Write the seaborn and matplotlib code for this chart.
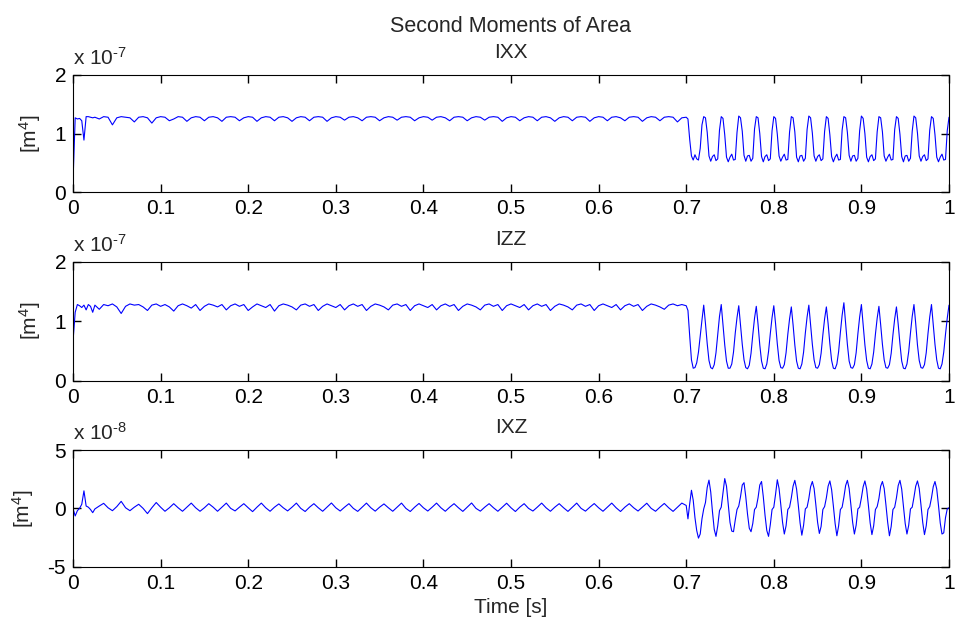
import numpy as np
import pandas as pd
import matplotlib
matplotlib.use('Agg')
import matplotlib.pyplot as plt
import seaborn as sns

'''Data read off the reference (IXX, IZZ in 1e-7 m^4, IXZ in 1e-8 m^4)'''

# sample times: short start block, slower middle block, denser block after 0.7 s
t_start = np.linspace(0.0, 0.0225, 10)
t_mid = np.linspace(0.025, 0.695, 135)
t_end = np.linspace(0.700, 1.000, 151)

ixx_start = [0.18, 1.27, 1.25, 1.26, 1.22, 0.89, 1.29, 1.29, 1.28, 1.27]
ixx_mid = [1.28, 1.25, 1.29, 1.28, 1.15, 1.27, 1.29, 1.28, 1.27, 1.20,
           1.28, 1.29, 1.27, 1.18, 1.27, 1.29, 1.28, 1.22, 1.25, 1.29,
           1.28, 1.21, 1.27, 1.29, 1.28, 1.22, 1.28, 1.29, 1.27, 1.21,
           1.28, 1.29, 1.28, 1.22, 1.27, 1.29, 1.28, 1.21, 1.27, 1.29,
           1.28, 1.22, 1.28, 1.29, 1.27, 1.21, 1.27, 1.29, 1.28, 1.22,
           1.28, 1.29, 1.28, 1.21, 1.27, 1.29, 1.28, 1.23, 1.28, 1.29,
           1.27, 1.22, 1.28, 1.29, 1.28, 1.22, 1.27, 1.29, 1.28, 1.23,
           1.28, 1.29, 1.28, 1.22, 1.27, 1.29, 1.28, 1.23, 1.28, 1.29,
           1.27, 1.22, 1.28, 1.29, 1.28, 1.22, 1.27, 1.29, 1.28, 1.23,
           1.28, 1.29, 1.28, 1.21, 1.27, 1.29, 1.28, 1.22, 1.27, 1.29,
           1.28, 1.22, 1.28, 1.29, 1.27, 1.21, 1.27, 1.29, 1.28, 1.22,
           1.28, 1.29, 1.28, 1.21, 1.27, 1.29, 1.28, 1.22, 1.28, 1.29,
           1.27, 1.22, 1.28, 1.29, 1.28, 1.21, 1.27, 1.29, 1.28, 1.22,
           1.28, 1.29, 1.28, 1.20, 1.27]
ixx_end = [1.28, 1.25, 0.90, 0.62, 0.55, 0.64, 0.57, 0.55, 0.75, 1.15,
           1.29, 1.27, 1.02, 0.62, 0.53, 0.61, 0.64, 0.54, 0.57, 1.06,
           1.29, 1.26, 0.98, 0.60, 0.52, 0.60, 0.65, 0.55, 0.56, 1.02,
           1.30, 1.27, 1.04, 0.63, 0.53, 0.62, 0.63, 0.53, 0.58, 1.08,
           1.29, 1.27, 1.00, 0.61, 0.52, 0.61, 0.64, 0.54, 0.57, 1.05,
           1.29, 1.26, 0.99, 0.62, 0.53, 0.60, 0.65, 0.55, 0.56, 1.03,
           1.29, 1.27, 1.03, 0.60, 0.52, 0.62, 0.63, 0.53, 0.58, 1.07,
           1.30, 1.27, 1.01, 0.62, 0.53, 0.61, 0.64, 0.54, 0.57, 1.04,
           1.29, 1.26, 0.98, 0.61, 0.52, 0.60, 0.65, 0.55, 0.56, 1.06,
           1.29, 1.27, 1.02, 0.63, 0.53, 0.62, 0.63, 0.53, 0.58, 1.05,
           1.30, 1.26, 1.00, 0.60, 0.52, 0.61, 0.64, 0.54, 0.57, 1.03,
           1.29, 1.27, 1.03, 0.62, 0.53, 0.60, 0.65, 0.55, 0.56, 1.07,
           1.29, 1.26, 0.99, 0.61, 0.52, 0.62, 0.63, 0.53, 0.58, 1.04,
           1.30, 1.27, 1.01, 0.62, 0.53, 0.61, 0.64, 0.54, 0.57, 1.06,
           1.29, 1.26, 0.98, 0.60, 0.52, 0.60, 0.65, 0.55, 0.56, 1.05,
           1.28]

izz_start = [0.66, 1.15, 1.28, 1.26, 1.23, 1.27, 1.19, 1.28, 1.25, 1.15]
izz_mid = [1.27, 1.20, 1.28, 1.26, 1.29, 1.24, 1.13, 1.25, 1.29, 1.27,
           1.28, 1.24, 1.18, 1.27, 1.29, 1.25, 1.28, 1.24, 1.17, 1.26,
           1.29, 1.26, 1.22, 1.28, 1.18, 1.25, 1.29, 1.27, 1.24, 1.28,
           1.19, 1.26, 1.29, 1.25, 1.28, 1.18, 1.24, 1.29, 1.26, 1.23,
           1.28, 1.17, 1.26, 1.29, 1.27, 1.24, 1.19, 1.27, 1.29, 1.25,
           1.28, 1.18, 1.25, 1.29, 1.26, 1.23, 1.28, 1.19, 1.26, 1.29,
           1.25, 1.28, 1.18, 1.25, 1.29, 1.27, 1.24, 1.19, 1.27, 1.29,
           1.25, 1.28, 1.18, 1.26, 1.29, 1.26, 1.23, 1.28, 1.19, 1.26,
           1.29, 1.25, 1.28, 1.18, 1.25, 1.29, 1.27, 1.24, 1.19, 1.27,
           1.29, 1.25, 1.28, 1.18, 1.26, 1.29, 1.26, 1.23, 1.28, 1.19,
           1.26, 1.29, 1.25, 1.28, 1.18, 1.25, 1.29, 1.27, 1.24, 1.19,
           1.27, 1.29, 1.25, 1.28, 1.18, 1.26, 1.29, 1.26, 1.23, 1.28,
           1.19, 1.26, 1.29, 1.25, 1.28, 1.18, 1.25, 1.29, 1.27, 1.24,
           1.20, 1.27, 1.29, 1.26, 1.28]
izz_end = [1.26, 1.18, 0.75, 0.35, 0.21, 0.22, 0.30, 0.48, 0.75, 1.02,
           1.27, 0.96, 0.62, 0.34, 0.22, 0.20, 0.27, 0.47, 0.78, 1.08,
           1.28, 0.95, 0.60, 0.33, 0.21, 0.21, 0.28, 0.48, 0.80, 1.06,
           1.26, 0.94, 0.61, 0.35, 0.22, 0.20, 0.26, 0.46, 0.77, 1.05,
           1.25, 0.95, 0.60, 0.33, 0.21, 0.20, 0.28, 0.49, 0.79, 1.06,
           1.26, 0.96, 0.62, 0.34, 0.22, 0.21, 0.27, 0.47, 0.78, 1.04,
           1.24, 0.94, 0.60, 0.33, 0.21, 0.20, 0.28, 0.48, 0.80, 1.07,
           1.27, 0.95, 0.61, 0.35, 0.22, 0.21, 0.27, 0.46, 0.77, 1.04,
           1.24, 0.96, 0.62, 0.34, 0.21, 0.20, 0.28, 0.49, 0.81, 1.10,
           1.31, 0.97, 0.61, 0.33, 0.22, 0.21, 0.27, 0.47, 0.79, 1.07,
           1.28, 0.95, 0.60, 0.34, 0.21, 0.20, 0.28, 0.48, 0.78, 1.05,
           1.25, 0.94, 0.61, 0.35, 0.22, 0.21, 0.27, 0.46, 0.77, 1.04,
           1.24, 0.95, 0.62, 0.33, 0.21, 0.20, 0.28, 0.49, 0.80, 1.08,
           1.28, 0.96, 0.60, 0.34, 0.22, 0.21, 0.27, 0.47, 0.79, 1.07,
           1.28, 0.95, 0.61, 0.35, 0.21, 0.20, 0.28, 0.48, 0.78, 1.05,
           1.27]

ixz_start = [0.00, -0.65, -0.20, 0.00, 0.35, 1.50, 0.20, 0.10, -0.10, -0.37]
ixz_mid = [-0.05, 0.20, 0.43, 0.05, -0.20, 0.15, 0.60, 0.05, -0.20, 0.10,
           0.35, 0.00, -0.45, 0.05, 0.50, 0.10, -0.25, 0.05, 0.40, 0.05,
           -0.25, 0.10, 0.45, 0.05, -0.25, 0.05, 0.40, 0.10, -0.25, 0.10,
           0.45, 0.00, -0.22, 0.10, 0.40, 0.05, -0.28, 0.10, 0.45, 0.05,
           -0.25, 0.10, 0.38, 0.05, -0.22, 0.10, 0.45, 0.00, -0.27, 0.10,
           0.40, 0.05, -0.25, 0.10, 0.46, 0.05, -0.23, 0.10, 0.40, 0.00,
           -0.26, 0.10, 0.45, 0.05, -0.24, 0.10, 0.38, 0.05, -0.25, 0.10,
           0.45, 0.00, -0.27, 0.10, 0.42, 0.05, -0.23, 0.10, 0.45, 0.05,
           -0.25, 0.10, 0.40, 0.05, -0.26, 0.10, 0.46, 0.00, -0.24, 0.10,
           0.40, 0.05, -0.25, 0.10, 0.44, 0.05, -0.27, 0.10, 0.40, 0.00,
           -0.23, 0.10, 0.45, 0.05, -0.25, 0.10, 0.40, 0.05, -0.26, 0.10,
           0.45, 0.00, -0.24, 0.10, 0.41, 0.05, -0.25, 0.10, 0.45, 0.05,
           -0.27, 0.10, 0.40, 0.05, -0.23, 0.10, 0.44, 0.00, -0.25, 0.10,
           0.42, 0.05, -0.26, 0.10, 0.45]
ixz_end = [0.25, -0.90, 0.40, 1.55, 0.70, -0.80, -1.90, -2.55, -2.20, -0.90,
           -0.05, 0.50, 1.80, 2.42, 1.40, -0.30, -1.80, -2.40, -1.50, -0.20,
           0.10, 1.30, 2.55, 1.90, 0.30, -1.20, -1.95, -2.00, -1.00, -0.10,
           0.20, 1.00, 2.00, 2.20, 1.00, -0.50, -1.70, -2.00, -1.30, -0.10,
           0.10, 0.90, 2.00, 2.30, 1.00, -0.60, -1.90, -2.40, -1.40, -0.10,
           0.10, 1.20,
           2.45, 1.70, 0.30, -1.20, -2.20, -1.50, -0.10, 0.10, 0.90, 1.90,
           2.40, 1.65, 0.25, -1.25, -2.30, -1.45, -0.05, 0.10, 0.85, 1.85,
           2.30, 1.70, 0.30, -1.20, -2.15, -1.55, -0.10, 0.15, 0.90, 1.90,
           2.35, 1.60, 0.20, -1.30, -2.35, -1.50, -0.10, 0.10, 0.95, 1.95,
           2.40, 1.70, 0.30, -1.20, -2.20, -1.45, -0.05, 0.10, 0.90, 1.85,
           2.35, 1.65, 0.25, -1.25, -2.25, -1.50, -0.10, 0.15, 0.85, 1.90,
           2.30, 1.70, 0.30, -1.20, -2.35, -1.55, -0.10, 0.10, 0.90, 1.95,
           2.40, 1.65, 0.20, -1.30, -2.20, -1.45, -0.05, 0.10, 0.95, 1.90,
           2.35, 1.70, 0.30, -1.20, -2.25, -1.50, -0.10, 0.15, 0.90, 1.85,
           2.30, 1.65, 0.25, -1.25, -2.20, -2.10, -0.80, -0.05, 0.05]

xtick_values = [0, 0.1, 0.2, 0.3, 0.4, 0.5, 0.6, 0.7, 0.8, 0.9, 1]
xtick_labels = ['0', '0.1', '0.2', '0.3', '0.4', '0.5', '0.6', '0.7', '0.8', '0.9', '1']

panel_titles = ['IXX', 'IZZ', 'IXZ']
panel_exponents = ['-7', '-7', '-8']
panel_yticks = [[0, 1, 2], [0, 1, 2], [-5, 0, 5]]
panel_ylims = [(0, 2), (0, 2), (-5, 5)]


def build_frame(start, mid, end):
    '''Put one series into a dataframe with its sample times'''
    df = pd.DataFrame()
    df['time'] = np.concatenate([t_start, t_mid, t_end])
    df['value'] = np.concatenate([start, mid, end])
    return df


'''Style'''
sns.set_style('ticks', {'xtick.direction': 'in', 'ytick.direction': 'in',
                        'xtick.top': True, 'ytick.right': True,
                        'axes.edgecolor': 'black', 'xtick.color': 'black',
                        'ytick.color': 'black'})
plt.rcParams['font.family'] = ['Liberation Sans', 'DejaVu Sans']
plt.rcParams['mathtext.fontset'] = 'custom'
plt.rcParams['mathtext.rm'] = 'Liberation Sans'
plt.rcParams['mathtext.it'] = 'Liberation Sans:italic'
fs = 15

fig = plt.figure(figsize=(9.56, 6.31), dpi=100)
W, H = 956.0, 631.0
# axes boxes in pixels: (left, top, right, bottom)
boxes = [(73, 75, 949, 192.3), (73, 261.7, 949, 380.7), (73, 450, 949, 566.7)]

frames = [build_frame(ixx_start, ixx_mid, ixx_end),
          build_frame(izz_start, izz_mid, izz_end),
          build_frame(ixz_start, ixz_mid, ixz_end)]

axes = []
for i, (l, t, r, b) in enumerate(boxes):
    ax = fig.add_axes([l / W, 1 - b / H, (r - l) / W, (b - t) / H])
    sns.lineplot(data=frames[i], x='time', y='value', ax=ax, color='#0000ff',
                 lw=0.8, estimator=None, sort=False)

    ax.set_xlim(0, 1)
    ax.set_ylim(*panel_ylims[i])
    ax.set_xticks(xtick_values)
    ax.set_xticklabels(xtick_labels)
    ax.set_yticks(panel_yticks[i])
    ax.set_yticklabels([str(v) for v in panel_yticks[i]])
    ax.tick_params(which='major', direction='in', bottom=True, left=True, top=True, right=True,
                   length=6, width=1.0, labelsize=fs, pad=5, colors='black')
    for sp in ax.spines.values():
        sp.set_visible(True)
        sp.set_linewidth(0.8)
        sp.set_color('black')

    ax.set_xlabel('')
    ax.set_ylabel(r'[m$^4$]', fontsize=fs, labelpad=8)
    ax.set_title(panel_titles[i], fontsize=fs, pad=12)

    # MATLAB-style exponent above the axes (plain hyphen, as in the original)
    ax.annotate(r'x 10$^{\text{' + panel_exponents[i] + '}}$', xy=(0, 1), xycoords='axes fraction',
                xytext=(0, 7), textcoords='offset points', ha='left', va='baseline', fontsize=fs)
    axes.append(ax)

axes[2].set_xlabel('Time [s]', fontsize=fs, labelpad=4)

fig.text(511 / W, 1 - 32 / H, 'Second Moments of Area', ha='center', va='baseline', fontsize=15.5)

fig.savefig('out.png', dpi=100)
